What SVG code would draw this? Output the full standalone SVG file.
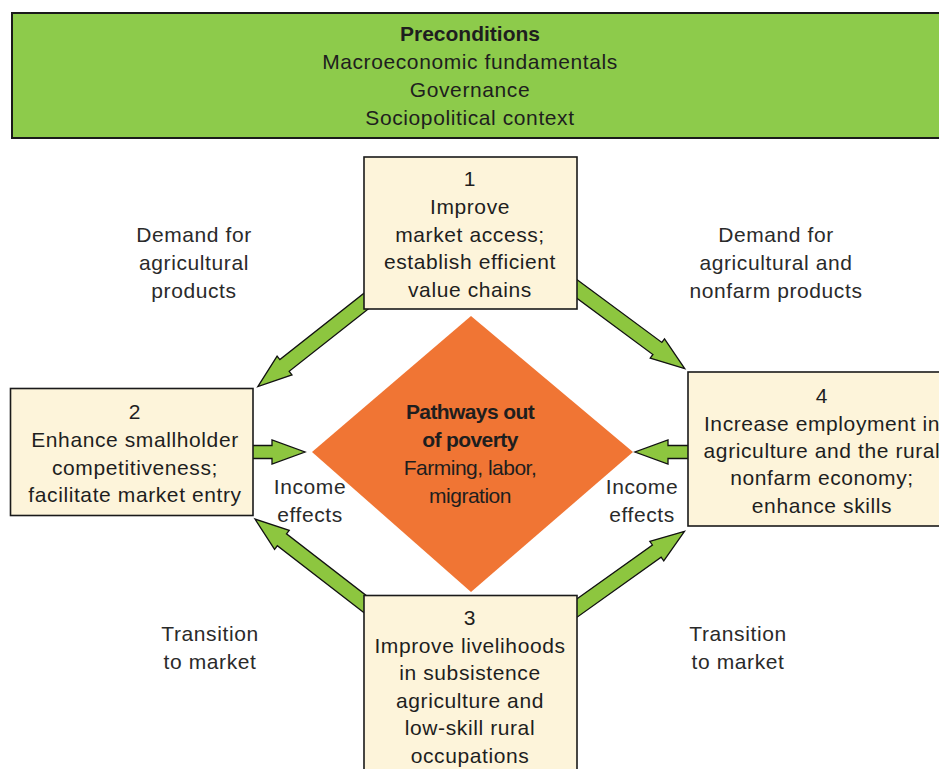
<svg xmlns="http://www.w3.org/2000/svg" width="939" height="769" viewBox="0 0 939 769">
<style>
text{font-family:"Liberation Sans",Arial,sans-serif;font-size:21px;fill:#1e1e1e;text-anchor:middle;letter-spacing:0.6px}
.b{font-weight:bold}
.lbl{fill:#2a2a2a}
.dm{letter-spacing:-0.5px}
.dmb{font-weight:bold;letter-spacing:-0.6px}
.box{fill:#fdf4da;stroke:#1a1a1a;stroke-width:1.6}
.arr{fill:#8dc63f;stroke:#111;stroke-width:1.3;stroke-linejoin:miter}
</style>
<rect width="939" height="769" fill="#ffffff"/>
<g id="preconditions">
<rect x="12" y="13" width="935" height="125" fill="#8dcb4b" stroke="#1a1a1a" stroke-width="2"/>
<text x="470" y="41" class="b" style="letter-spacing:0">Preconditions</text>
<text x="470" y="69">Macroeconomic fundamentals</text>
<text x="470" y="97">Governance</text>
<text x="470" y="125">Sociopolitical context</text>
</g>
<g id="connectors">
<path class="arr" transform="translate(363,303.5) rotate(141.7)" d="M-10,-7.5 H100 V-12 L134,0 L100,12 V7.5 H-10 Z"/>
<path class="arr" transform="translate(577,289) rotate(36.5)" d="M-10,-7.5 H100 V-12 L134,0 L100,12 V7.5 H-10 Z"/>
<path class="arr" transform="translate(253,452)" d="M-8,-6.5 H19 V-12 L52,0 L19,12 V6.5 H-8 Z"/>
<path class="arr" transform="translate(688,452) rotate(180)" d="M-8,-6.5 H20 V-12 L53,0 L20,12 V6.5 H-8 Z"/>
<path class="arr" transform="translate(363,602.5) rotate(-142.3)" d="M-10,-7.5 H102.5 V-12 L136.5,0 L102.5,12 V7.5 H-10 Z"/>
<path class="arr" transform="translate(577,608) rotate(-35.5)" d="M-10,-7.5 H98 V-12 L132,0 L98,12 V7.5 H-10 Z"/>
</g>
<g id="labels">
<text x="194" y="242" class="lbl">Demand for</text>
<text x="194" y="270" class="lbl">agricultural</text>
<text x="194" y="297.5" class="lbl">products</text>
<text x="776" y="242" class="lbl">Demand for</text>
<text x="776" y="270" class="lbl">agricultural and</text>
<text x="776" y="297.5" class="lbl">nonfarm products</text>
<text x="210" y="641" class="lbl">Transition</text>
<text x="210" y="669" class="lbl">to market</text>
<text x="738" y="641" class="lbl">Transition</text>
<text x="738" y="669" class="lbl">to market</text>
<text x="310" y="494" class="lbl">Income</text>
<text x="310" y="522" class="lbl">effects</text>
<text x="642" y="494" class="lbl">Income</text>
<text x="642" y="522" class="lbl">effects</text>
</g>
<g id="node1">
<rect class="box" x="364" y="157" width="213" height="152"/>
<text x="470" y="186">1</text>
<text x="470" y="214">Improve</text>
<text x="470" y="241.5">market access;</text>
<text x="470" y="269">establish efficient</text>
<text x="470" y="296.5">value chains</text>
</g>
<g id="node2">
<rect class="box" x="10.5" y="388.5" width="242.5" height="127"/>
<text x="135" y="419">2</text>
<text x="135" y="447">Enhance smallholder</text>
<text x="135" y="474.5">competitiveness;</text>
<text x="135" y="502">facilitate market entry</text>
</g>
<g id="node4">
<rect class="box" x="688" y="372" width="260" height="154"/>
<text x="822" y="403">4</text>
<text x="822" y="430.5">Increase employment in</text>
<text x="822" y="458">agriculture and the rural</text>
<text x="822" y="485">nonfarm economy;</text>
<text x="822" y="512.5">enhance skills</text>
</g>
<g id="node3">
<rect class="box" x="364" y="595.5" width="213" height="180"/>
<text x="470" y="625">3</text>
<text x="470" y="652.5">Improve livelihoods</text>
<text x="470" y="680">in subsistence</text>
<text x="470" y="707.5">agriculture and</text>
<text x="470" y="735">low-skill rural</text>
<text x="470" y="762.5">occupations</text>
</g>
<g id="pathways">
<polygon points="471,316 633,452 471,592 312,452" fill="#f07534"/>
<text x="470" y="418.5" class="dmb">Pathways out</text>
<text x="470" y="446.5" class="dmb">of poverty</text>
<text x="470" y="475" class="dm">Farming, labor,</text>
<text x="470" y="502.5" class="dm">migration</text>
</g>
</svg>
